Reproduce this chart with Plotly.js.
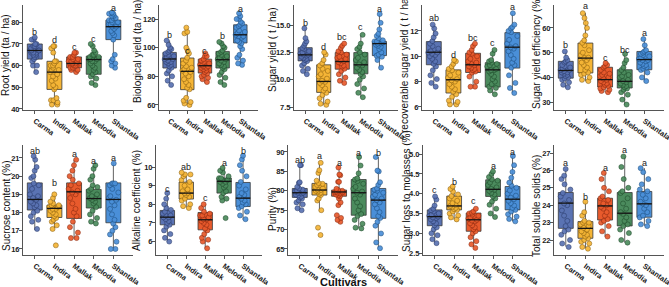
<!DOCTYPE html>
<html><head><meta charset="utf-8">
<script src="https://cdn.plot.ly/plotly-3.0.1.min.js"></script>
<style>html,body{margin:0;padding:0;background:#fff}#chart{width:669px;height:287px}</style>
</head><body><div id="chart"></div>
<script>
const cultivars = ['Carma','Indira','Mallak','Melodia','Shantala'];
const fillColors = ['#5a73b3','#f5b536','#e85a2c','#4b8b5d','#4a8fd8'];
const edgeColors = ['#2a3a6a','#8a6010','#8a2a10','#1f4a2a','#1f4f80'];

// ---- Root yield (ta / ha)
const rootTitle = 'Root yield (ta / ha)';
const rootTicks = [40,50,60,70,80];
const rootStats = [[56.7,63,67,70,73],[41.8,49,57,62,69],[56.7,59,61,64,66.4],[51,56,62.8,64.4,69.7],[58.5,72,78,81,84.5]];
const rootLetters = ['b','d','c','c','a'];
const rootLetterY = [75.5,72,68.8,72.3,86.7];
const rootPts = [
 [73,72,72,70,70,69,69,68,68,67,67,67,67,66,66,66,65,65,64,64,63,62,60,60,57],
 [69,69,68,66,62,62,61,60,60,59,58,58,57,56,55,54,53,51,50,49,45,44,44,43,42,42],
 [66,66,65,64,64,63,63,62,62,62,61,61,61,61,60,60,60,59,59,58,58,57],
 [70,69,67,66,65,65,64,64,64,63,63,63,62,62,61,60,59,58,57,56,55,54,52,51],
 [84.5,84,84,83,83,82,82,81,81,80,80,79,79,78,78,77,76,75,74,72,65,63,62,61,60,59]];

// ---- Biological yield (ta / ha)
const bioTitle = 'Biological yield (ta / ha)';
const bioTicks = [60,80,100,120];
const bioStats = [[73.5,85.8,92.1,96.7,105],[60.2,70.7,83.5,92.8,113.7],[75.3,82.3,87.4,92,95.6],[73.5,85.8,91.6,97.4,104.4],[88.1,103.3,109,116,124.2]];
const bioLetters = ['b','c','c','b','a'];
const bioLetterY = [109,97.4,97.4,108,127];
const bioPts = [
 [105,102,100,99,98,97,96,95,94,93,92,92,91,90,90,89,88,87,86,84,82,80,77,74],
 [114,111,110,100,98,96,93,91,89,87,86,85,84,83,82,80,78,76,74,72,71,65,63,62,61,60],
 [96,94,94,92,91,90,89,88,88,87,87,86,86,85,84,83,82,81,80,79,78,76],
 [104,103,101,100,98,97,96,95,94,93,92,92,91,90,89,88,87,86,85,83,81,79,76,74],
 [124,122,120,120,118,117,116,115,114,112,111,110,109,108,108,107,105,104,103,101,99,95,93,91,89,88]];

// ---- Sugar yield ( t / ha)
const syTitle = 'Sugar yield ( t / ha)';
const syTicks = [7.5,10,12.5,15];
const syStats = [[10.44,11.72,12.27,12.93,14.7],[7.71,8.84,9.84,11.36,12.48],[9.69,10.96,11.66,12.48,13.33],[8.41,10.54,11.36,12.48,14.1],[11.05,12.2,13.3,13.5,16.0]];
const syLetters = ['b','d','bc','c','a'];
const syLetterY = [15.2,12.97,13.88,14.8,16.5];
const syPts = [
 [14.7,13.8,13.5,13.3,13.1,12.9,12.8,12.6,12.5,12.4,12.3,12.3,12.2,12.1,12.0,11.9,11.8,11.7,11.5,11.3,11.0,10.8,10.5],
 [12.5,12.3,11.8,11.5,11.3,11.0,10.8,10.5,10.3,10.1,9.9,9.8,9.7,9.5,9.2,9.0,8.8,8.6,8.3,8.0,7.8,7.7],
 [13.3,13.1,12.9,12.6,12.5,12.3,12.1,12.0,11.9,11.8,11.7,11.6,11.5,11.3,11.2,11.0,10.8,10.5,10.2,9.9,9.7],
 [14.1,13.3,13.0,12.8,12.5,12.3,12.0,11.8,11.6,11.4,11.3,11.1,10.9,10.7,10.5,10.3,10.0,9.6,9.2,8.8,8.4],
 [16.0,15.2,14.6,14.2,14.0,13.8,13.6,13.5,13.5,13.4,13.3,13.3,13.2,13.1,13.0,12.8,12.5,12.3,12.2,12.1,11.8,11.1]];

// ---- recoverable sugar yield ( t / ha)
const rsyTitle = 'recoverable sugar yield ( t / ha)';
const rsyTicks = [6,8,10,12];
const rsyStats = [[7.62,9.33,10.32,11.16,12.47],[6.18,7.1,8.15,8.93,9.72],[7.57,8.72,9.33,10.24,11.03],[7.05,7.57,8.93,9.5,10.5],[7.1,9.07,10.72,11.87,13.39]];
const rsyLetters = ['ab','d','bc','c','a'];
const rsyLetterY = [13.0,10.1,11.42,11.03,13.86];
const rsyPts = [
 [12.5,12.2,11.8,11.5,11.2,11.0,10.8,10.6,10.4,10.3,10.3,10.2,10.1,10.0,9.8,9.6,9.4,9.2,8.9,8.5,8.2,7.9,7.6],
 [9.7,9.6,9.4,9.2,9.0,8.9,8.7,8.5,8.3,8.2,8.1,8.0,7.8,7.6,7.4,7.2,7.0,6.8,6.5,6.4,6.2,6.2],
 [11.0,10.8,10.5,10.3,10.2,10.0,9.8,9.6,9.5,9.4,9.3,9.2,9.1,9.0,8.9,8.8,8.7,8.4,8.0,7.6,7.6],
 [10.5,10.2,9.7,9.6,9.5,9.4,9.3,9.2,9.0,8.9,8.9,8.8,8.6,8.4,8.2,8.0,7.8,7.6,7.5,7.3,7.0],
 [13.4,12.5,12.3,12.2,12.0,11.9,11.6,11.3,11.0,10.8,10.7,10.6,10.4,10.1,9.8,9.5,9.3,9.1,8.5,7.9,7.5,7.1]];

// ---- Sugar yield efficiency (%)
const syeTitle = 'Sugar yield efficiency (%)';
const syeTicks = [30,40,50,60];
const syeStats = [[35.7,39.7,42.8,46.5,50.5],[38.4,41.8,47.8,53.9,66.1],[33.9,36.1,39.1,44.1,45.8],[28.9,35.7,38.4,43.1,49.5],[38.4,43.1,47.2,50.5,55.5]];
const syeLetters = ['b','a','c','bc','a'];
const syeLetterY = [53.2,68.8,47.8,51.2,58];
const syePts = [
 [50.5,48,47,46.5,46,45,44.5,44,43.5,43,43,42.5,42,42,41.5,41,40.5,40,39.5,39,38,37,36],
 [66,64,62,60,57,55,54,53,51,50,49,48,48,47,46,45,44,43,42,41.5,41,40,39,38.5],
 [45.8,45,44.5,44,43,42,41.5,41,40.5,40,39.5,39,38.5,38,37.5,37,36.5,36,35.5,35,34.5,34],
 [49.5,47,45.8,44,43,42,41,40.5,40,39,38.5,38,37.5,37,36.5,36,35.5,35,34,33,31,29],
 [55.5,53,51,50.5,50,49.5,49,48.5,48,47.5,47,47,46.5,46,45.5,45,44.5,44,43.5,43,42,40,38.5]];

// ---- Sucrose content (%)
const sucTitle = 'Sucrose content (%)';
const sucTicks = [16,17,18,19,20,21];
const sucStats = [[17.04,18.14,18.72,19.63,21.09],[17.13,17.73,18.23,18.41,18.96],[16.58,17.68,19.14,19.63,20.9],[17.4,18.25,18.77,19.27,20.6],[16.04,17.44,18.72,19.63,20.73]];
const sucLetters = ['ab','b','a','a','a'];
const sucLetterY = [21.36,19.63,21.2,20.84,21.02];
const sucPts = [
 [21.1,20.9,20.5,20.3,20.0,19.9,19.6,19.5,19.3,19.0,18.9,18.8,18.7,18.6,18.5,18.4,18.3,18.1,18.0,17.8,17.6,17.5,17.1],
 [19.0,18.8,18.6,18.5,18.4,18.4,18.3,18.3,18.2,18.2,18.1,18.0,17.9,17.8,17.7,17.6,17.5,17.3,17.1,16.2],
 [20.9,20.6,20.3,20.0,19.8,19.6,19.5,19.3,19.2,19.1,19.0,18.8,18.5,18.2,18.0,17.8,17.5,17.2,16.9,16.6,16.6],
 [20.6,20.4,20.0,19.8,19.5,19.4,19.3,19.2,19.0,18.9,18.8,18.8,18.7,18.6,18.5,18.3,18.1,17.9,17.7,17.5,17.4],
 [20.7,19.6,19.6,19.6,19.5,19.3,19.1,18.9,18.8,18.7,18.6,18.4,18.2,17.9,17.6,17.4,17.2,17.0,16.8,16.4,16.0,16.0]];

// ---- Alkaline coefficient (%)
const alkTitle = 'Alkaline coefficient (%)';
const alkTicks = [6,7,8,9,10];
const alkStats = [[6.0,6.9,7.31,7.67,8.6],[7.83,8.28,8.6,9.19,9.68],[5.64,6.63,7.17,7.56,8.0],[8.24,8.6,9.23,9.41,9.95],[7.17,7.88,8.33,9.17,10.61]];
const alkLetters = ['c','ab','c','a','b'];
const alkLetterY = [8.82,10.0,8.33,10.2,10.88];
const alkPts = [
 [8.6,8.3,8.0,7.8,7.7,7.6,7.5,7.4,7.4,7.3,7.3,7.2,7.1,7.0,6.9,6.8,6.6,6.4,6.2,6.0],
 [9.7,9.6,9.6,9.5,9.3,9.2,9.0,8.8,8.7,8.6,8.6,8.5,8.4,8.3,8.2,8.0,7.9,7.8],
 [8.0,7.8,7.6,7.5,7.4,7.4,7.3,7.2,7.2,7.1,7.0,6.9,6.7,6.6,6.4,6.2,6.1,6.0,5.64],
 [9.95,9.8,9.7,9.5,9.4,9.4,9.3,9.3,9.2,9.2,9.1,9.0,8.9,8.7,8.6,8.4,8.3,8.2,7.26],
 [10.6,10.4,10.1,9.8,9.5,9.2,9.0,8.8,8.6,8.5,8.4,8.3,8.2,8.1,8.0,7.9,7.8,7.6,7.4,7.2]];

// ---- Purity (%)
const purTitle = 'Purity (%)';
const purTicks = [65,70,75,80,85,90];
const purStats = [[75,78.3,79.5,80.6,86.6],[75,78.9,80.2,81.9,87.2],[76.3,78.6,79.7,80.2,86.0],[70.3,73.7,79.5,82.9,88.7],[65.2,72.9,77.6,80.6,88.7]];
const purLetters = ['ab','a','a','a','b'];
const purLetterY = [88.0,88.9,87.2,89.7,89.7];
const purPts = [
 [86.6,86.6,82.2,82.0,81.0,80.6,80.3,80.0,79.8,79.5,79.5,79.3,79.0,78.8,78.5,78.3,78.0,77.5,77.0,76.5,75.5,75.0],
 [87.2,85.3,84.6,82.6,82.0,81.8,81.5,81.0,80.6,80.3,80.2,80.0,79.8,79.5,79.2,78.9,78.0,77.5,75.0,70.5,68.6],
 [86.0,84.2,84.0,82.3,82.3,80.5,80.2,80.0,79.8,79.7,79.6,79.5,79.3,79.0,78.8,78.6,78.0,77.0,76.3,73.7,73.0,72.5,72.0],
 [88.7,86.5,84.5,83.2,82.9,82.5,81.8,81.0,80.5,79.8,79.5,79.0,78.0,77.0,76.0,75.0,74.0,73.5,72.5,71.5,70.5,70.3],
 [88.7,85.2,85.0,82.2,81.5,80.6,80.3,80.0,79.5,79.0,78.5,78.0,77.6,77.0,76.5,75.5,74.5,73.5,73.0,72.0,71.0,69.0,66.7,65.2]];

// ---- Sugar loss to molasses (%)
const slmTitle = 'Sugar loss to molasses (%)';
const slmTicks = [2.5,3,3.5,4,4.5,5];
const slmStats = [[2.75,3.19,3.42,3.59,3.93],[3.34,3.59,3.69,3.94,4.18],[2.63,3.05,3.34,3.51,3.62],[3.41,3.93,4.11,4.35,4.56],[3.30,3.59,3.86,4.18,4.95]];
const slmLetters = ['c','b','c','a','a'];
const slmLetterY = [4.09,4.3,3.82,4.7,5.06];
const slmPts = [
 [3.93,3.85,3.7,3.62,3.58,3.55,3.5,3.47,3.44,3.42,3.4,3.38,3.35,3.3,3.25,3.2,3.15,3.1,3.0,2.95,2.85,2.75],
 [4.18,4.12,4.05,3.98,3.94,3.88,3.82,3.76,3.72,3.69,3.67,3.64,3.61,3.59,3.55,3.5,3.45,3.4,3.35],
 [3.62,3.55,3.52,3.5,3.47,3.44,3.4,3.37,3.34,3.32,3.3,3.25,3.2,3.15,3.1,3.05,3.0,2.9,2.8,2.72,2.63],
 [4.56,4.5,4.42,4.36,4.33,4.28,4.22,4.16,4.12,4.1,4.07,4.02,3.98,3.93,3.88,3.8,3.72,3.62,3.5,3.41],
 [4.95,4.72,4.55,4.4,4.28,4.2,4.15,4.08,4.0,3.95,3.9,3.86,3.82,3.76,3.7,3.64,3.59,3.55,3.48,3.42,3.36,3.3]];

// ---- Total soluble solids (%)
const tssTitle = 'Total soluble solids (%)';
const tssTicks = [22,23,24,25,26,27];
const tssStats = [[21.62,22.67,24.12,24.73,26.08],[21.52,22.1,22.67,23.06,24.2],[22.19,23.15,23.96,24.4,25.85],[21.85,22.81,23.54,24.73,26.8],[22.81,23.31,24.08,24.79,26.13]];
const tssLetters = ['a','b','a','a','a'];
const tssLetterY = [26.42,24.46,26.13,27.15,26.42];
const tssPts = [
 [26.08,25.7,25.5,25.2,24.9,24.7,24.5,24.3,24.1,24.0,23.7,23.4,23.1,22.8,22.6,22.5,22.3,22.0,21.8,21.6],
 [24.2,23.6,23.4,23.1,23.0,23.0,22.9,22.8,22.7,22.6,22.5,22.4,22.3,22.2,22.1,22.0,21.9,21.8,21.6,21.5],
 [25.85,25.5,25.0,24.8,24.5,24.4,24.3,24.1,24.0,23.9,23.8,23.6,23.4,23.2,23.1,23.0,22.8,22.5,22.2],
 [26.8,26.2,25.5,25.0,24.8,24.7,24.4,24.1,23.8,23.6,23.5,23.3,23.1,22.9,22.8,22.6,22.4,22.0,21.85],
 [26.13,25.9,25.5,25.2,24.9,24.8,24.6,24.4,24.2,24.1,24.0,23.8,23.6,23.4,23.3,23.1,22.9,22.8]];

const panels = [
 {title:rootTitle, ticks:rootTicks, stats:rootStats, pts:rootPts, letters:rootLetters, ly:rootLetterY, range:[39.5,88], fmt:''},
 {title:bioTitle, ticks:bioTicks, stats:bioStats, pts:bioPts, letters:bioLetters, ly:bioLetterY, range:[56.5,129.8], fmt:''},
 {title:syTitle, ticks:syTicks, stats:syStats, pts:syPts, letters:syLetters, ly:syLetterY, range:[7.23,16.83], fmt:'.1f'},
 {title:rsyTitle, ticks:rsyTicks, stats:rsyStats, pts:rsyPts, letters:rsyLetters, ly:rsyLetterY, range:[5.76,14.05], fmt:''},
 {title:syeTitle, ticks:syeTicks, stats:syeStats, pts:syePts, letters:syeLetters, ly:syeLetterY, range:[26.8,69.3], fmt:''},
 {title:sucTitle, ticks:sucTicks, stats:sucStats, pts:sucPts, letters:sucLetters, ly:sucLetterY, range:[15.67,21.71], fmt:''},
 {title:alkTitle, ticks:alkTicks, stats:alkStats, pts:alkPts, letters:alkLetters, ly:alkLetterY, range:[5.28,11.18], fmt:''},
 {title:purTitle, ticks:purTicks, stats:purStats, pts:purPts, letters:purLetters, ly:purLetterY, range:[63.45,91.8], fmt:''},
 {title:slmTitle, ticks:slmTicks, stats:slmStats, pts:slmPts, letters:slmLetters, ly:slmLetterY, range:[2.45,5.23], fmt:'.1f'},
 {title:tssTitle, ticks:tssTicks, stats:tssStats, pts:tssPts, letters:tssLetters, ly:tssLetterY, range:[21.14,27.46], fmt:''}
];

// panel placement in pixels (layout only)
const W = 669, H = 287;
const xPix = [[23,133],[159,258],[294,398],[422,532],[554,664],[23,133],[156,262],[288,398],[423,532],[554,664]];
const yPix = [[5,110],[145,255]];
const titleX = [6,137,272,405,536,6,136,272,406,536];
const titleY = [55,52,50,64,53,206,201,209,191,206];
const BOXW = 0.76;

const traces = [];
const layout = {
  width:W, height:H, margin:{l:0,r:0,t:0,b:0},
  paper_bgcolor:'#fff', plot_bgcolor:'#fff', showlegend:false,
  font:{family:'Liberation Sans, Arial, sans-serif', color:'#222'},
  boxmode:'overlay', annotations:[], shapes:[]
};

panels.forEach((p,i)=>{
  const suf = i===0 ? '' : String(i+1);
  const xa = 'x'+suf, ya = 'y'+suf;
  cultivars.forEach((c,j)=>{
    const s = p.stats[j];
    traces.push({type:'box', xaxis:xa, yaxis:ya, x:[c], lowerfence:[s[0]], q1:[s[1]], median:[s[2]], q3:[s[3]], upperfence:[s[4]],
      fillcolor:fillColors[j], line:{color:'#3a3a3a', width:0.8}, whiskerwidth:0, width:BOXW, boxpoints:false, hoverinfo:'skip'});
  });
  cultivars.forEach((c,j)=>{
    traces.push({type:'box', xaxis:xa, yaxis:ya, x:p.pts[j].map(()=>c), y:p.pts[j],
      boxpoints:'all', jitter:0.75, pointpos:0, width:BOXW, whiskerwidth:0,
      fillcolor:'rgba(0,0,0,0)', line:{color:'rgba(0,0,0,0)', width:0},
      marker:{color:fillColors[j], size:5, opacity:0.92, line:{color:edgeColors[j], width:0.6}}, hoverinfo:'skip'});
    // median bar drawn in layout shapes from the stats array
    layout.shapes.push({type:'line', xref:xa, yref:ya, x0:j-BOXW/2, x1:j+BOXW/2, y0:p.stats[j][2], y1:p.stats[j][2],
      line:{color:'#151515', width:1.3}, layer:'above'});
  });
  const row = i<5 ? 0 : 1;
  const xd = [xPix[i][0]/W, xPix[i][1]/W];
  const yd = [1 - yPix[row][1]/H, 1 - yPix[row][0]/H];
  layout['xaxis'+suf] = {domain:xd, anchor:ya, type:'category', categoryorder:'array', categoryarray:cultivars,
    range:[-0.6,5.0], tickangle:35, showline:true, linecolor:'#555', linewidth:1, ticks:'outside', ticklen:3, tickcolor:'#555',
    tickfont:{size:7.5, color:'#222', weight:'bold'}, showgrid:false, zeroline:false, fixedrange:true};
  layout['yaxis'+suf] = {domain:yd, anchor:xa, range:p.range, tickvals:p.ticks, tickformat:p.fmt,
    showline:true, linecolor:'#555', linewidth:1, ticks:'outside', ticklen:3, tickcolor:'#555', ticklabelstandoff:-2,
    tickfont:{size:7.5, color:'#222', weight:'bold'}, showgrid:false, zeroline:false, fixedrange:true};
  layout.annotations.push({xref:'paper', yref:'paper', x:titleX[i]/W, y:1-titleY[i]/H, text:p.title, textangle:-90,
    showarrow:false, font:{size:10, color:'#111'}, xanchor:'center', yanchor:'middle'});
  cultivars.forEach((c,j)=>{
    layout.annotations.push({xref:xa, yref:ya, x:c, y:p.ly[j], text:p.letters[j], showarrow:false,
      font:{size:9, color:'#222'}, yanchor:'middle', xanchor:'center'});
  });
});
layout.annotations.push({xref:'paper', yref:'paper', x:343/W, y:1-282/H, text:'Cultivars', showarrow:false,
  font:{size:11, color:'#111', weight:'bold'}, xanchor:'center', yanchor:'middle'});

Plotly.newPlot('chart', traces, layout, {staticPlot:true, displayModeBar:false});
</script></body></html>
